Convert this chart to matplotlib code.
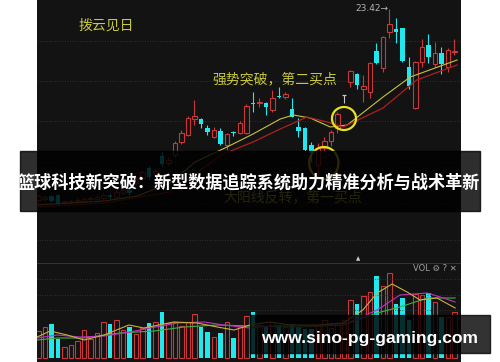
import matplotlib
matplotlib.use("Agg")
import matplotlib.pyplot as plt
from matplotlib.patches import Ellipse, Rectangle

plt.rcParams["font.family"] = ["Noto Sans CJK SC", "DejaVu Sans"]

# daily candles (price), left to right
opens = [15.78, 15.82, 15.94, 15.98, 15.68, 15.70, 15.74, 15.74, 15.82, 15.82,
         15.86, 15.98, 15.90, 16.06, 16.18, 16.46, 16.66, 17.06, 16.82, 17.54,
         17.26, 17.58, 18.10, 18.38, 19.02, 19.02, 18.66, 18.30, 18.54, 17.98,
         18.50, 18.46, 18.46, 19.66, 19.64, 19.66, 19.38, 19.92, 19.90, 19.42,
         18.70, 18.66, 17.98, 17.18, 17.86, 18.14, 18.66, 19.98, 20.50, 20.82,
         20.22, 20.10, 21.74, 21.06, 22.50, 22.62, 22.66, 21.10, 19.46, 21.30,
         21.98, 21.22, 21.66, 21.10, 21.68]
closes = [15.94, 15.90, 15.74, 15.62, 15.72, 15.74, 15.78, 15.82, 15.86, 15.90,
          15.98, 15.90, 16.10, 16.18, 16.06, 16.62, 16.90, 16.70, 16.94, 17.22,
          17.38, 18.06, 18.46, 19.06, 19.14, 18.82, 18.50, 18.58, 18.02, 18.42,
          18.44, 18.86, 19.54, 19.60, 19.68, 19.50, 19.86, 19.88, 20.02, 19.10,
          18.54, 17.78, 17.66, 17.86, 18.14, 18.50, 19.22, 19.98, 20.94, 20.38,
          20.34, 21.26, 21.26, 22.30, 22.82, 22.50, 21.34, 20.34, 21.30, 21.90,
          21.50, 21.66, 21.22, 21.78, 21.72]
highs = [16.02, 15.98, 15.98, 16.02, 15.78, 15.82, 15.86, 15.90, 15.94, 15.98,
         16.06, 16.06, 16.18, 16.26, 16.26, 16.74, 16.98, 17.14, 17.06, 17.70,
         17.50, 18.14, 18.58, 19.14, 19.78, 19.06, 18.78, 18.70, 18.66, 18.46,
         18.54, 18.94, 19.62, 20.10, 19.86, 19.70, 20.18, 20.30, 20.10, 19.86,
         19.06, 18.70, 18.10, 18.06, 18.30, 18.58, 19.30, 19.98, 20.98, 20.86,
         20.78, 21.30, 22.06, 22.34, 23.42, 23.06, 22.66, 21.50, 21.34, 22.22,
         22.42, 22.10, 21.90, 21.86, 22.22]
lows = [15.66, 15.74, 15.70, 15.58, 15.62, 15.66, 15.66, 15.70, 15.74, 15.78,
        15.78, 15.82, 15.86, 15.98, 15.98, 16.38, 16.58, 16.62, 16.74, 17.14,
        17.18, 17.50, 18.02, 18.34, 18.78, 18.66, 18.38, 18.26, 17.98, 17.78,
        18.34, 18.42, 18.42, 19.30, 19.50, 19.18, 19.30, 19.86, 19.82, 19.10,
        18.30, 17.70, 17.30, 16.70, 17.74, 17.94, 18.46, 19.66, 20.30, 20.22,
        19.70, 19.86, 21.22, 20.90, 22.26, 22.06, 21.30, 20.22, 19.42, 21.10,
        21.26, 21.10, 20.82, 20.90, 21.58]
volumes = [27, 31, 34, 19, 11, 13, 17, 28, 19, 25, 36, 34, 38, 28, 31, 24, 30, 35,
           36, 46, 35, 36, 32, 36, 44, 31, 26, 21, 25, 36, 20, 32, 42, 46, 33, 32,
           36, 33, 31, 34, 31, 29, 29, 33, 38, 30, 33, 38, 58, 54, 62, 66, 82, 72,
           85, 54, 60, 38, 64, 63, 65, 56, 41, 41, 46]

# moving average lines (candle index, value)
ma_fast_x = [-0.2, 10.1, 15.2, 20.2, 24.1, 29.0, 33.0, 37.2, 39.2, 41.8, 44.9, 47.5, 53.0, 57.2, 64.4]
ma_fast_y = [15.58, 15.74, 15.94, 16.46, 17.30, 17.90, 18.42, 19.02, 19.18, 19.06, 18.70, 18.78, 19.90, 20.70, 21.38]
ma_slow_x = [-0.2, 10.1, 20.2, 28.4, 33.0, 37.2, 41.3, 44.4, 46.9, 53.0, 58.2, 64.4]
ma_slow_y = [15.50, 15.66, 16.10, 17.62, 18.10, 18.62, 19.10, 18.90, 18.70, 19.46, 20.58, 21.18]

vol_ma5_x = [-0.2, 1.8, 4.4, 7.0, 10.1, 13.9, 16.2, 20.8, 24.4, 27.5, 30.1, 32.5, 35.6, 38.7,
             42.8, 46.9, 49.9, 52.1, 54.4, 56.7, 58.7, 61.3, 64.1]
vol_ma5_y = [21, 27, 23, 18, 23, 33, 30, 36, 35, 31, 28, 33, 36, 33, 33, 35, 48, 65, 74, 66, 58, 60, 50]
vol_ma10_x = [-0.2, 2.9, 6.4, 10.1, 14.1, 17.2, 21.3, 25.5, 28.5, 32.5, 37.6, 42.8, 47.5, 52.1,
              55.6, 59.8, 61.8, 64.1]
vol_ma10_y = [20, 23, 21, 22, 26, 30, 35, 36, 33, 30, 33, 32, 35, 48, 63, 65, 61, 56]
vol_ma20_x = [-0.2, 2.9, 7.0, 12.5, 17.8, 22.4, 27.5, 32.5, 40.2, 46.9, 52.1, 55.6, 59.8, 64.1]
vol_ma20_y = [18, 20, 20, 25, 27, 31, 33, 32, 31, 33, 45, 51, 60, 60]

notes = ["拨云见日", "强势突破，第二买点", "大阳线反转，第一买点"]
title = "篮球科技新突破：新型数据追踪系统助力精准分析与战术革新"
site = "www.sino-pg-gaming.com"

BG = "#131313"
UP = "#c8373a"
DOWN = "#1fe8ee"
NOTE = "#c9c93c"
GRID = "#3a3a3a"

fig = plt.figure(figsize=(5, 3.62), dpi=100)
fig.patch.set_facecolor("white")

ax = fig.add_axes([37 / 500, 99 / 362, 424 / 500, 263 / 362])
vax = fig.add_axes([37 / 500, 0, 424 / 500, 99 / 362])
for a in (ax, vax):
    a.set_facecolor(BG)
    a.set_xlim(-0.23, 65.0)
    a.set_xticks([])
    a.set_yticks([])
    for s in a.spines.values():
        s.set_visible(False)
ax.set_ylim(13.26, 23.78)
vax.set_ylim(-4, 95)

for g in [22.16, 20.54, 18.92, 17.30, 15.68, 14.18]:
    ax.axhline(g, color=GRID, lw=0.6, ls=(0, (1, 2)))
for g in [79, 63, 48]:
    vax.axhline(g, color=GRID, lw=0.6, ls=(0, (1, 2)))
vax.axhline(95, color="#3c3c3c", lw=1.2)

w = 0.66
for i, (o, c, h, l) in enumerate(zip(opens, closes, highs, lows)):
    if c > o:
        ax.vlines(i, l, h, color=UP, lw=0.8, zorder=2)
        ax.bar(i, c - o, bottom=o, width=w, facecolor=BG, edgecolor=UP, lw=0.8, zorder=3)
    elif c < o:
        ax.vlines(i, l, h, color=DOWN, lw=0.8, zorder=2)
        ax.bar(i, o - c, bottom=c, width=w, color=DOWN, lw=0, zorder=3)
    else:
        # T-shaped doji, drawn in grey
        ax.vlines(i, l, h, color="#c8c8c8", lw=0.8, zorder=2)
        ax.hlines(o, i - w / 2, i + w / 2, color="#c8c8c8", lw=0.9, zorder=3)

    if c >= o:
        vax.bar(i, volumes[i], width=w, facecolor=BG, edgecolor=UP, lw=0.8)
    else:
        vax.bar(i, volumes[i], width=w, color=DOWN, lw=0)

ax.plot(ma_fast_x, ma_fast_y, color="#c8c040", lw=0.8, zorder=4)
ax.plot(ma_slow_x, ma_slow_y, color="#b01e1e", lw=0.9, zorder=4)

vax.plot(vol_ma20_x, vol_ma20_y, color="#3cb43c", lw=0.8)
vax.plot(vol_ma10_x, vol_ma10_y, color="#c030c0", lw=0.8)
vax.plot(vol_ma5_x, vol_ma5_y, color="#c8b040", lw=0.8)

# buy point circles
ax.add_patch(Ellipse((47.0, 19.04), 3.7, 0.92, fill=False, ec="#e8e020", lw=1.6, zorder=5))
ax.add_patch(Ellipse((43.9, 17.26), 4.5, 1.28, fill=False, ec="#e8e020", lw=1.6, zorder=5))

ax.text(6.1, 22.76, notes[0], color=NOTE, fontsize=10, va="center")
ax.text(26.7, 20.62, notes[1], color=NOTE, fontsize=10, va="center")
ax.text(28.4, 15.90, notes[2], color=NOTE, fontsize=10, va="center")
ax.text(53.9, 23.42, "23.42→", color="#b4b4b4", fontsize=6.5, ha="right", va="center",
        family="DejaVu Sans")

fig.text(358 / 500, 1 - 259 / 362, "▲", color="#d0d0d0", fontsize=4, ha="center", va="center",
         family="DejaVu Sans")
fig.text(413 / 500, 1 - 268 / 362, "VOL ⚙ ? ✕", color="#a0a0a0", fontsize=6, va="center",
         family="DejaVu Sans")

# headline banner
fig.patches.append(Rectangle((20 / 500, 151 / 362), 460 / 500, 60 / 362, transform=fig.transFigure,
                             color="black", alpha=0.82, zorder=10))
fig.text(249 / 500, 1 - 183 / 362, title, color="white", fontsize=12.3, weight="bold",
         ha="center", va="center", zorder=11)

# site watermark
fig.patches.append(Rectangle((250 / 500, 9 / 362), 240 / 500, 38 / 362, transform=fig.transFigure,
                             color="black", alpha=0.8, zorder=10))
fig.text(261 / 500, 1 - 338 / 362, site, color="white", fontsize=12.6, weight="bold",
         family="Liberation Sans", ha="left", va="center", zorder=11)

fig.savefig("out.png", dpi=100, facecolor=fig.get_facecolor())
